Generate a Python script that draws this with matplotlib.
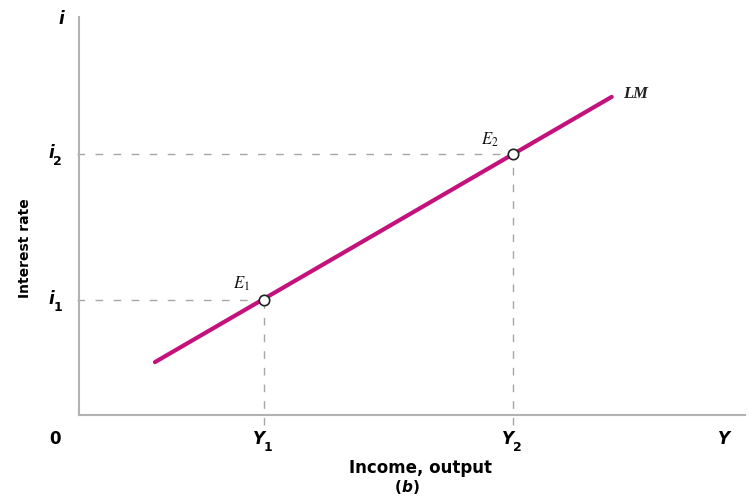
import matplotlib
matplotlib.use("Agg")
import matplotlib.pyplot as plt

plt.rcParams['mathtext.fontset'] = 'stix'

# LM curve (schematic units, both axes span 0..100)
lm_x = [11.4, 80.0]
lm_y = [13.4, 80.0]

# equilibrium points E1, E2
eq_names = ['E_1', 'E_2']
eq_x = [27.8, 65.2]
eq_y = [29.1, 65.7]

x_subs = ['1', '2']
y_subs = ['1', '2']

magenta = '#c4127c'
axis_grey = '#b2b2b2'
dash_grey = '#a6a6a6'
bold_font = 'DejaVu Sans'

fig = plt.figure(figsize=(7.49, 4.96), dpi=100)
ax = fig.add_axes([0.1055, 0.1623, 0.889, 0.803])
ax.set_xlim(0, 100)
ax.set_ylim(0, 100)
for s in ['top', 'right']:
    ax.spines[s].set_visible(False)
for s in ['left', 'bottom']:
    ax.spines[s].set_color(axis_grey)
    ax.spines[s].set_linewidth(1.5)
ax.set_xticks([])
ax.set_yticks([])

# dashed guides, poking a little past the axes like ticks
for x, y in zip(eq_x, eq_y):
    ax.plot([x, x], [-2.4, y], ls=(0, (5.5, 6.5)), color=dash_grey, lw=1.0,
            clip_on=False, zorder=1)
    ax.plot([-0.3, x], [y, y], ls=(0, (5.5, 7.5)), color=dash_grey, lw=1.0,
            clip_on=False, zorder=1)

ax.plot(lm_x, lm_y, color=magenta, lw=3.0, solid_capstyle='round', zorder=2)
ax.plot(eq_x, eq_y, 'o', ms=7.5, mfc='white', mec='#222222', mew=1.2, zorder=3)

for name, x, y, dy in zip(eq_names, eq_x, eq_y, [8, 6.5]):
    ax.annotate('$' + name + '$', (x, y), xytext=(-10.5, dy),
                textcoords='offset points', fontsize=12, ha='right',
                va='baseline', color='#111111')
ax.annotate('LM', (lm_x[1], lm_y[1]), xytext=(8, 2), textcoords='offset points',
            fontsize=12, fontweight='bold', style='italic',
            family='Liberation Serif', ha='left', va='center', color='#222222')


def bold_text(x, y, s, italic=True, size=12):
    ax.text(x, y, s, fontsize=size, fontweight='bold',
            style='italic' if italic else 'normal', family=bold_font,
            ha='center', va='center', clip_on=False)


def sub(x, y, s, dx, dy):
    ax.annotate(s, (x, y), xytext=(dx, dy), textcoords='offset points',
                fontsize=9, fontweight='bold', family=bold_font,
                ha='left', va='center', annotation_clip=False)


# y-axis labels
for y, s in zip(eq_y, y_subs):
    bold_text(-4.2, y + 0.2, 'i')
    sub(-4.2, y + 0.2, s, 1.5, -6)
bold_text(-2.6, 99.6, 'i')

# x-axis labels
for x, s in zip(eq_x, x_subs):
    bold_text(x - 0.8, -5.9, 'Y')
    sub(x - 0.8, -5.9, s, 3.5, -6)
bold_text(96.8, -5.9, 'Y')
bold_text(-3.6, -5.9, '0', italic=False)

fig.text(0.562, 0.056, 'Income, output', fontsize=12, fontweight='bold',
         family=bold_font, ha='center', va='center')
bx, by = 0.543, 0.018
fig.text(bx, by, 'b', fontsize=11, fontweight='bold', style='italic',
         family=bold_font, ha='center', va='center')
fig.text(bx - 0.007, by, '(', fontsize=11, fontweight='bold',
         family=bold_font, ha='right', va='center')
fig.text(bx + 0.008, by, ')', fontsize=11, fontweight='bold',
         family=bold_font, ha='left', va='center')

fig.text(0.033, 0.5, 'Interest rate', fontsize=10, fontweight='bold',
         family=bold_font, rotation=90, ha='center', va='center')

fig.savefig('out.png', dpi=100)
